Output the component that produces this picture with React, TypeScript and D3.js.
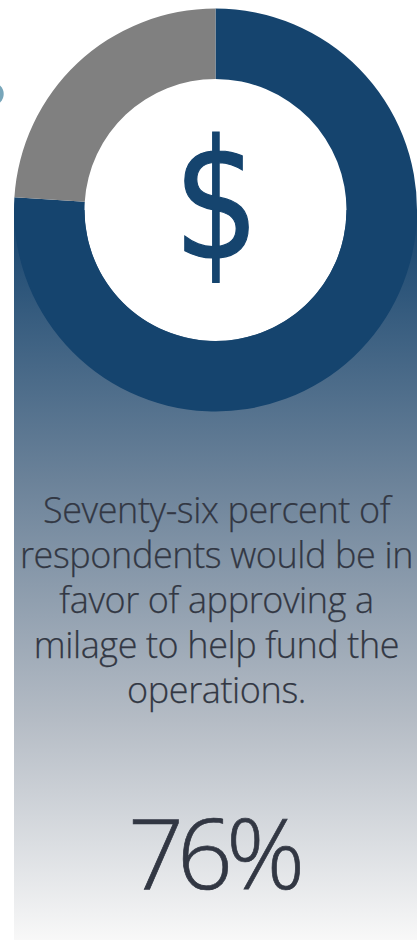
import React from "react";
import * as d3 from "d3";

const W = 420;
const H = 941;

// Survey result: share of respondents in favour of the milage
const shareLabels = ["In favor", "Other"];
const shareValues = [76, 24];
const shareColors = ["#15446e", "#808080"];

const captionLines = [
  "Seventy-six percent of",
  "respondents would be in",
  "favor of approving a",
  "milage to help fund the",
  "operations.",
];
const headline = "76%";
const currencySymbol = "$";

const gradientStops = [
  { offset: 0, color: "#15446e" },
  { offset: 0.37, color: "#6b8299" },
  { offset: 0.7, color: "#b5bcc5" },
  { offset: 1, color: "#f8f8f8" },
];

export default function App() {
  const cx = 215.5;
  const cy = 210;
  const pie = d3.pie<number>().sort(null)(shareValues);
  const arc = d3.arc<d3.PieArcDatum<number>>().innerRadius(131).outerRadius(201.5);
  const captionY = d3.scaleLinear().domain([0, 1]).range([523, 568]);

  return (
    <svg
      width={W}
      height={H}
      viewBox={`0 0 ${W} ${H}`}
      style={{ position: "fixed", left: 0, top: 0, display: "block", background: "#fff" }}
    >
      <defs>
        <linearGradient id="panelFade" x1="0" y1="0" x2="0" y2="1">
          {gradientStops.map((s) => (
            <stop key={s.offset} offset={s.offset} stopColor={s.color} />
          ))}
        </linearGradient>
      </defs>
      <circle cx={-7.9} cy={94} r={11.6} fill="#78a6ba" />
      <rect x={14} y={210} width={403} height={730} fill="url(#panelFade)" />
      <circle cx={cx} cy={cy} r={131} fill="#fff" />
      <g transform={`translate(${cx},${cy})`}>
        {pie.map((d, i) => (
          <path key={shareLabels[i]} d={arc(d) ?? ""} fill={shareColors[i]} />
        ))}
      </g>
      <text
        transform={`translate(${cx + 1},258) scale(0.82,1)`}
        textAnchor="middle"
        fontFamily="'DejaVu Sans'"
        fontWeight={400}
        fontSize={165}
        stroke="#15446e"
        strokeWidth={1.2}
        fill="#15446e"
      >
        {currencySymbol}
      </text>
      {captionLines.map((line, i) => (
        <text
          key={line}
          x={cx + 1}
          y={captionY(i)}
          textAnchor="middle"
          fontFamily="'Open Sans'"
          fontWeight={300}
          fontSize={36}
          letterSpacing={-0.4}
          stroke="#323743"
          strokeWidth={0.25}
          fill="#323743"
        >
          {line}
        </text>
      ))}
      <text
        x={cx - 2.5}
        y={889}
        textAnchor="middle"
        fontFamily="'Open Sans'"
        fontWeight={300}
        fontSize={98}
        letterSpacing={-7}
        stroke="#323743"
        strokeWidth={0.7}
        fill="#323743"
      >
        {headline}
      </text>
    </svg>
  );
}
